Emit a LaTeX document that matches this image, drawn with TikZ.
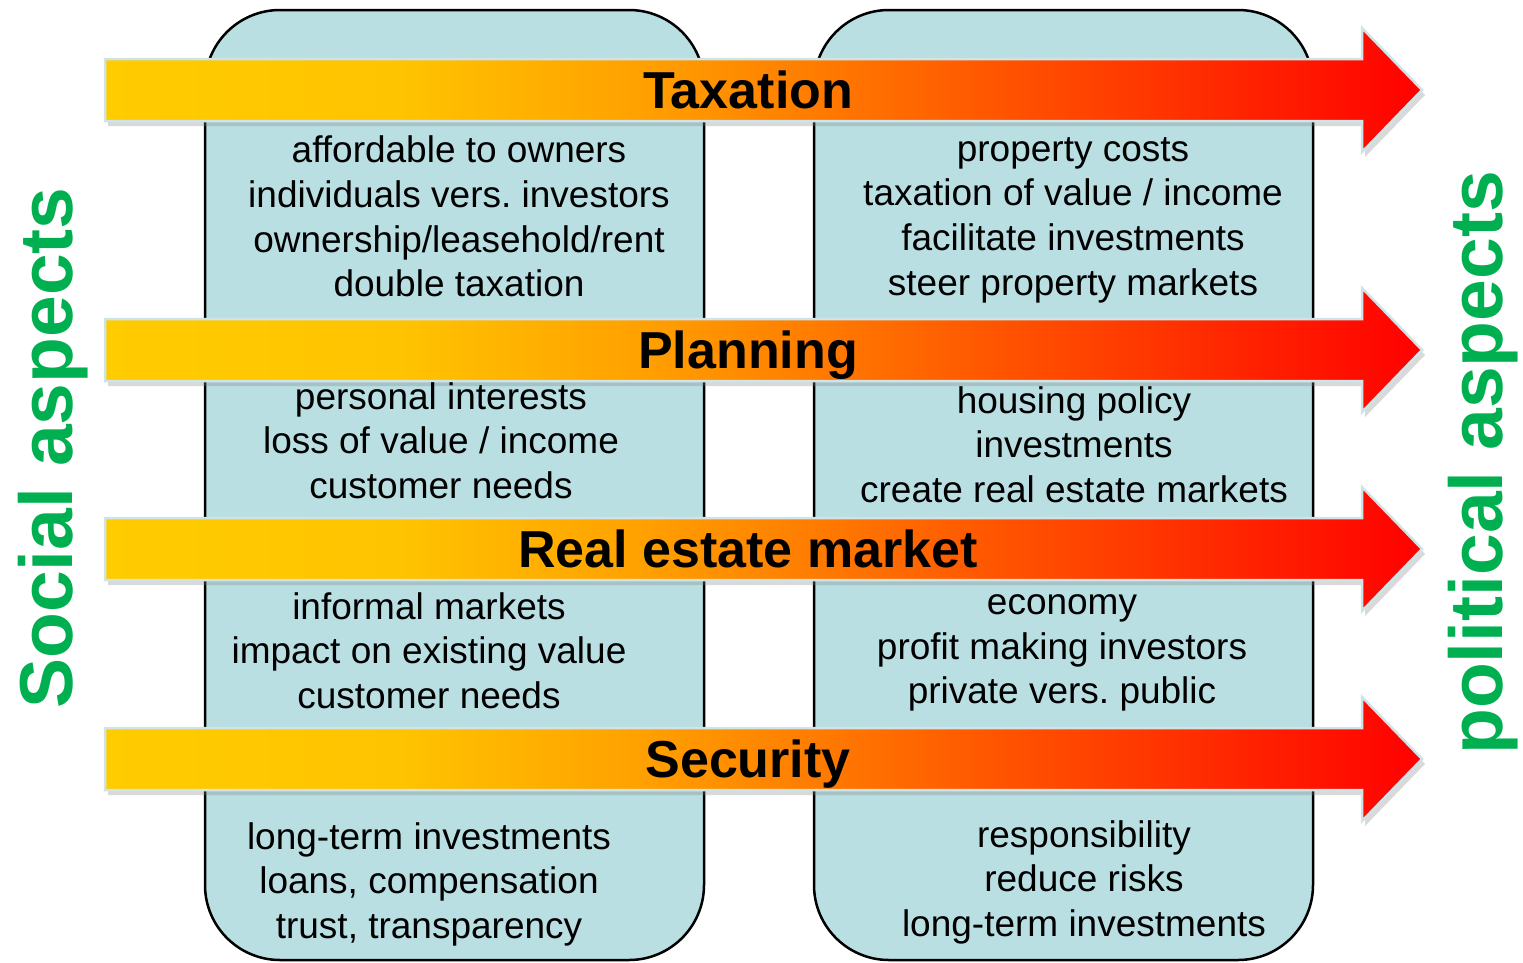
\documentclass[tikz,border=0pt]{standalone}
\usepackage{fontspec}
\setmainfont{Liberation Sans}
\frenchspacing
\usetikzlibrary{shadows,positioning}

\definecolor{boxblue}{RGB}{185,223,227}
\definecolor{aspectgreen}{RGB}{0,176,80}
\definecolor{arrowrim}{RGB}{208,228,232}
\definecolor{heatA}{RGB}{255,204,0}
\definecolor{heatB}{RGB}{255,196,0}
\definecolor{heatC}{RGB}{255,160,0}
\definecolor{heatD}{RGB}{255,84,0}
\definecolor{heatE}{RGB}{255,0,0}
\pgfdeclarehorizontalshading{heat}{100bp}{color(0bp)=(heatA); color(25bp)=(heatA); color(36bp)=(heatB); color(45.5bp)=(heatC); color(59bp)=(heatD); color(75bp)=(heatE); color(100bp)=(heatE)}

\tikzset{
  column/.style={draw=black, line width=2.5pt, fill=boxblue, rounded corners=75pt},
  band/.style={shading=heat, draw=arrowrim, line width=2.5pt,
    drop shadow={opacity=0.3, shadow xshift=3pt, shadow yshift=-5pt}},
  bandtitle/.style={inner sep=0pt, text height=37pt, text depth=0pt,
    font=\fontsize{52}{60}\selectfont\bfseries},
  itemlist/.style={align=center, inner sep=0pt, font=\fontsize{37}{44.7}\selectfont,
    execute at begin node=\strut, execute at end node=\strut},
  aspect/.style={rotate=90, anchor=base, inner sep=0pt, text=aspectgreen,
    font=\fontsize{75}{80}\selectfont\bfseries},
}

\begin{document}
\begin{tikzpicture}[x=1pt, y=-1pt]
    \useasboundingbox (0,0) rectangle (1523,962);

    % the two columns
    \draw[column] (205,10) rectangle (704,960);
    \draw[column] (814,10) rectangle (1313,960);

    % the four arrows
    \foreach \yc/\name/\lbl in {90/tax/Taxation, 350/plan/Planning,
                                549/market/Real estate market, 759/sec/Security} {
        \draw[band] (105,\yc-31) -- (1362,\yc-31) -- (1362,\yc-62) -- (1422,\yc)
            -- (1362,\yc+62) -- (1362,\yc+31) -- (105,\yc+31) -- cycle;
        \node[bandtitle] (\name) at (748,\yc) {\lbl};
    }

    % social side
    \node[itemlist] (taxsocial) at (459,223) {affordable to owners\\individuals vers. investors\\ownership/leasehold/rent\\double taxation};
    \node[itemlist] (plansocial) at (441,447) {personal interests\\loss of value / income\\customer needs};
    \node[itemlist] (marketsocial) at (429,657) {informal markets\\impact on existing value\\customer needs};
    \node[itemlist] (secsocial) at (429,887) {long-term investments\\loans, compensation\\trust, transparency};

    % political side
    \node[itemlist] (taxpolitical) at (1073,223) {property costs\\taxation of value / income\\facilitate investments\\steer property markets};
    \node[itemlist] (planpolitical) at (1074,451) {housing policy\\investments\\create real estate markets};
    \node[itemlist] (marketpolitical) at (1062,656) {economy\\profit making investors\\private vers. public};
    \node[itemlist] (secpolitical) at (1084,885) {responsibility\\reduce risks\\long-term investments};

    \node[aspect] (social) at (72,448) {Social aspects};
    \node[aspect] (political) at (1502,463) {political aspects};
\end{tikzpicture}
\end{document}
